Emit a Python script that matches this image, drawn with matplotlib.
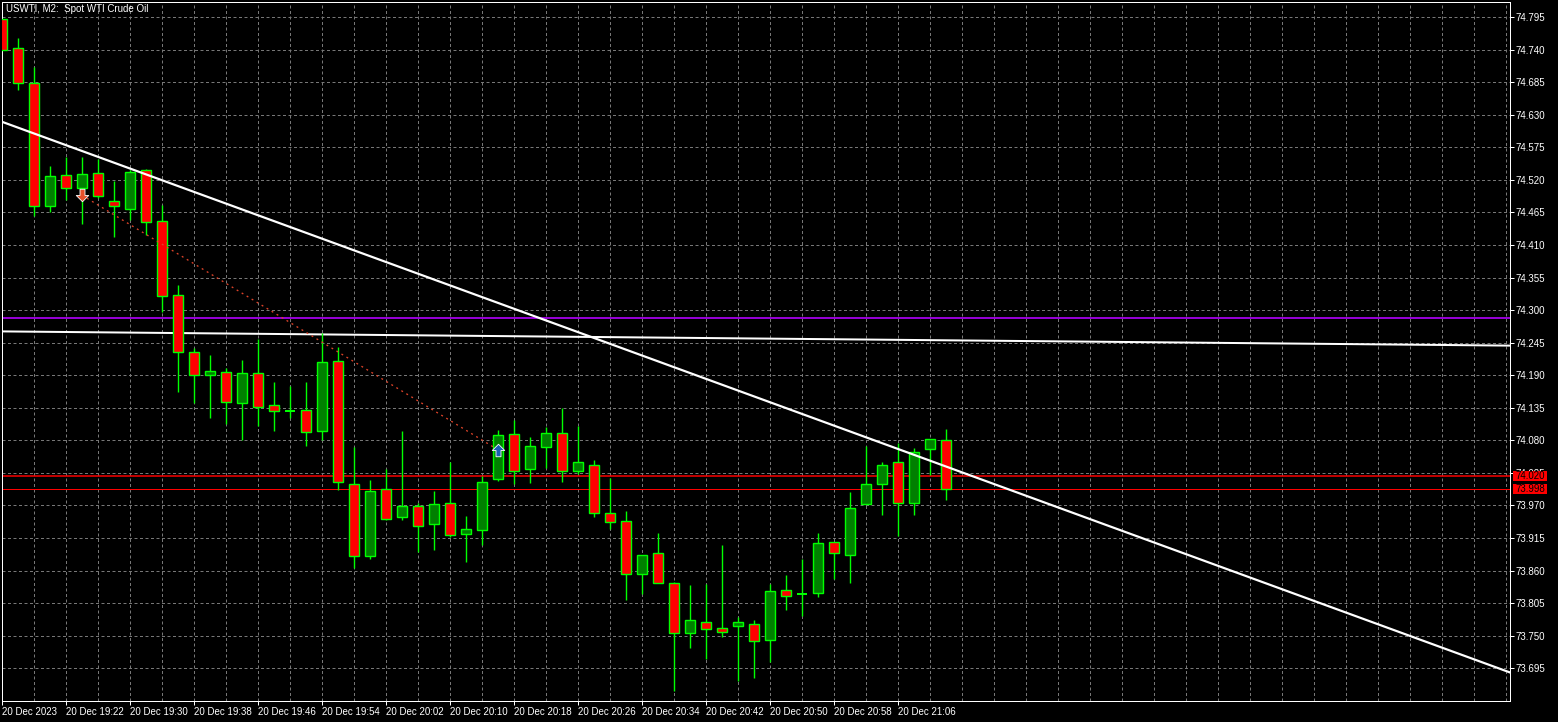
import matplotlib
matplotlib.use("Agg")
import matplotlib.pyplot as plt
import matplotlib.transforms as mtransforms
from matplotlib.path import Path
from matplotlib.patches import Rectangle

plt.rcParams['font.family'] = ['Liberation Sans', 'DejaVu Sans']

# USWTI M2 candles, first bar 20 Dec 19:14
opens = [74.791, 74.742, 74.683, 74.476, 74.528, 74.507, 74.532, 74.485, 74.471, 74.536,
         74.450, 74.325, 74.229, 74.191, 74.195, 74.143, 74.193, 74.139, 74.129, 74.131,
         74.095, 74.214, 74.006, 73.884, 73.997, 73.950, 73.969, 73.938, 73.974, 73.921,
         73.928, 74.014, 74.090, 74.031, 74.068, 74.092, 74.029, 74.038, 73.957, 73.943,
         73.855, 73.889, 73.839, 73.754, 73.774, 73.763, 73.766, 73.769, 73.742, 73.827,
         73.821, 73.823, 73.908, 73.886, 73.972, 74.006, 74.043, 73.974, 74.065, 74.080]
highs = [74.791, 74.760, 74.710, 74.543, 74.559, 74.559, 74.555, 74.518, 74.537, 74.538,
         74.478, 74.342, 74.236, 74.224, 74.202, 74.216, 74.251, 74.179, 74.171, 74.179,
         74.261, 74.238, 74.069, 74.013, 74.032, 74.096, 73.974, 73.995, 74.043, 73.952,
         74.020, 74.098, 74.114, 74.086, 74.103, 74.134, 74.105, 74.046, 74.017, 73.961,
         73.886, 73.924, 73.841, 73.836, 73.837, 73.903, 73.781, 73.776, 73.837, 73.852,
         73.879, 73.923, 73.908, 73.992, 74.070, 74.043, 74.075, 74.067, 74.082, 74.099]
lows = [74.740, 74.671, 74.459, 74.465, 74.486, 74.446, 74.490, 74.423, 74.452, 74.427,
        74.296, 74.162, 74.143, 74.117, 74.108, 74.081, 74.105, 74.095, 74.117, 74.071,
        74.081, 73.996, 73.864, 73.880, 73.945, 73.945, 73.892, 73.895, 73.916, 73.875,
        73.904, 74.012, 74.007, 74.008, 74.034, 74.010, 74.024, 73.950, 73.931, 73.811,
        73.821, 73.839, 73.656, 73.730, 73.710, 73.748, 73.673, 73.678, 73.706, 73.793,
        73.783, 73.815, 73.845, 73.839, 73.972, 73.954, 73.919, 73.954, 74.021, 73.980]
closes = [74.740, 74.683, 74.475, 74.526, 74.507, 74.530, 74.492, 74.475, 74.533, 74.448,
          74.323, 74.230, 74.190, 74.197, 74.144, 74.193, 74.136, 74.129, 74.129, 74.094,
          74.212, 74.009, 73.884, 73.994, 73.948, 73.969, 73.935, 73.972, 73.920, 73.930,
          74.009, 74.089, 74.028, 74.070, 74.092, 74.028, 74.043, 73.958, 73.942, 73.854,
          73.886, 73.839, 73.754, 73.776, 73.761, 73.756, 73.773, 73.741, 73.825, 73.817,
          73.821, 73.906, 73.889, 73.965, 74.006, 74.038, 73.974, 74.060, 74.082, 73.998]

time_labels = ['20 Dec 2023', '20 Dec 19:22', '20 Dec 19:30', '20 Dec 19:38', '20 Dec 19:46',
               '20 Dec 19:54', '20 Dec 20:02', '20 Dec 20:10', '20 Dec 20:18', '20 Dec 20:26',
               '20 Dec 20:34', '20 Dec 20:42', '20 Dec 20:50', '20 Dec 20:58', '20 Dec 21:06']
price_ticks = [73.695, 73.750, 73.805, 73.860, 73.915, 73.970, 74.025, 74.080, 74.135,
               74.190, 74.245, 74.300, 74.355, 74.410, 74.465, 74.520, 74.575, 74.630,
               74.685, 74.740, 74.795]

# objects on the chart
trend_x = [0, 94.25]
trend_y = [74.618, 73.688]
ma_x = [0, 94.25]
ma_y = [74.264, 74.240]
purple_level = 74.286
ask_price = 74.020
bid_price = 73.998
deal_x = [5, 31]
deal_y = [74.494, 74.064]

PX = 0.72  # one pixel in points
LIME = '#00ff00'

fig = plt.figure(figsize=(15.58, 7.22), dpi=100, facecolor='black')
ax = fig.add_axes([2 / 1558, 21 / 722, 1508 / 1558, 699 / 722])
ax.set_facecolor('black')
ax.set_xlim(0, 94.25)
ax.set_ylim(73.6398, 74.8203)

# grid
ax.set_yticks(price_ticks)
ax.yaxis.set_major_formatter(matplotlib.ticker.FormatStrFormatter('%.3f'))
ax.set_xticks(list(range(0, 4 * len(time_labels), 4)))
ax.set_xticklabels(time_labels)
ax.set_xticks(list(range(0, 95, 2)), minor=True)
ax.grid(which='both', color='#777777', linestyle=(0, (3, 2.5)), linewidth=PX)
ax.set_axisbelow(True)

for s in ax.spines.values():
    s.set_color('white')
    s.set_linewidth(PX)

ax.yaxis.tick_right()
ax.tick_params(axis='y', colors='white', length=3, width=PX, labelsize=7, pad=1)
ax.tick_params(axis='x', which='major', colors='white', length=3, width=PX, labelsize=7, pad=1.5)
ax.tick_params(axis='x', which='minor', length=0)
for lab in ax.get_xticklabels():
    lab.set_ha('left')

# lines
ax.plot(ma_x, ma_y, color='white', lw=2 * PX, zorder=2)
ax.axhline(purple_level, color='#9400d3', lw=2 * PX, zorder=2)
ax.axhline(ask_price, color='red', lw=1.5 * PX, zorder=2)
ax.axhline(bid_price, color='red', lw=PX, zorder=2)

# candles
bw = 0.6
for k in range(len(opens)):
    o, h, l, c = opens[k], highs[k], lows[k], closes[k]
    ax.vlines(k, l, h, color=LIME, lw=1.4 * PX, zorder=3)
    if o == c:
        ax.hlines(o, k - bw / 2, k + bw / 2, color=LIME, lw=2 * PX, zorder=4)
        continue
    face = '#008000' if c > o else '#ff0000'
    ax.add_patch(Rectangle((k - bw / 2, min(o, c)), bw, abs(c - o), facecolor=face,
                           edgecolor=LIME, lw=1.4 * PX, zorder=4))

# trend line
ax.plot(trend_x, trend_y, color='white', lw=2.2 * PX, zorder=5)

# deal line and arrows
ax.plot(deal_x, deal_y, color='#e0442a', lw=1.3 * PX, linestyle=(0, (1.5, 3)), zorder=5)
up_arrow = Path([(0, 1), (1, 0), (0.4, 0), (0.4, -1), (-0.4, -1), (-0.4, 0), (-1, 0), (0, 1)],
                closed=True)
down_arrow = Path([(0, -1), (1, 0), (0.4, 0), (0.4, 1), (-0.4, 1), (-0.4, 0), (-1, 0), (0, -1)],
                  closed=True)
ax.plot(deal_x[0], deal_y[0], marker=down_arrow, ms=9, color='#e8502a', mec='white', mew=0.6,
        zorder=6)
ax.plot(deal_x[1], deal_y[1], marker=up_arrow, ms=9, color='#1a5fb4', mec='white', mew=0.6,
        zorder=6)

# price boxes on the scale
trans = mtransforms.blended_transform_factory(ax.transAxes, ax.transData)
box_h = 0.0174
for p in [ask_price, bid_price]:
    ax.add_patch(Rectangle((1.0018, p - box_h / 2), 34.6 / 1508, box_h, transform=trans,
                           facecolor='red', edgecolor='none', clip_on=False, zorder=10))
    ax.text(1.0035, p, '%.3f' % p, transform=trans, color='black', fontsize=7,
            va='center', ha='left', clip_on=False, zorder=11)

fig.text(6 / 1558, 1 - 9 / 722, 'USWTI, M2:  Spot WTI Crude Oil', color='white', fontsize=7,
         va='center', ha='left')

fig.savefig('out.png', dpi=100, facecolor='black')
